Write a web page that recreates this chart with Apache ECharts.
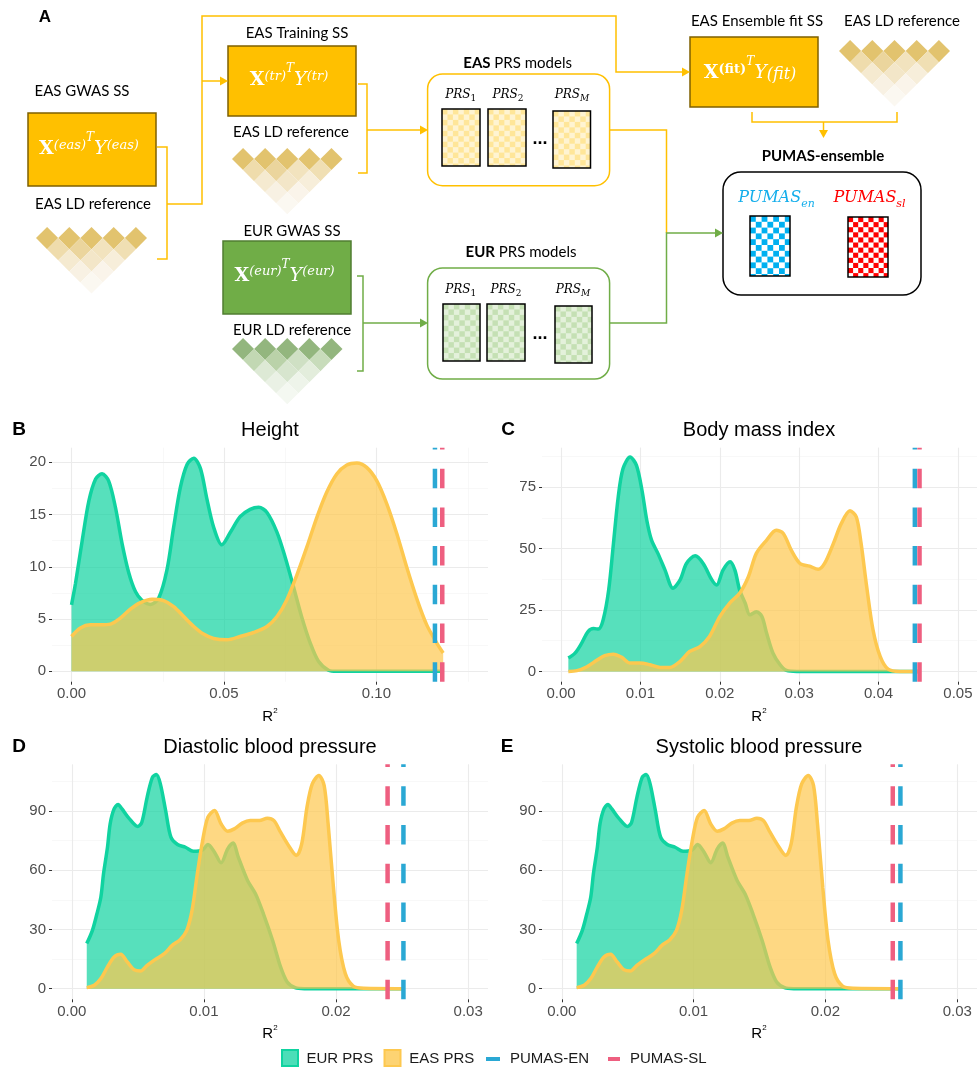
<!DOCTYPE html>
<html>
<head>
<meta charset="utf-8">
<script src="https://cdn.jsdelivr.net/npm/echarts@6/dist/echarts.min.js"></script>
<style>
html,body{margin:0;padding:0;background:#fff;}
#chart{width:977px;height:1067px;}
</style>
</head>
<body>
<div id="chart"></div>
<script>
// ---------- density estimates of R^2 (x = R^2, y = density) ----------
const heightEUR = [[0,6.35],[0.0013,8.4],[0.0035,12.5],[0.0057,16.3],[0.0079,18.4],[0.0100,18.9],[0.0122,18.2],[0.0144,15.7],[0.0166,12.2],[0.0188,9.4],[0.0210,7.6],[0.0231,6.8],[0.0259,6.4],[0.0286,7.0],[0.0313,9.7],[0.0335,13.8],[0.0357,17.6],[0.0379,19.8],[0.0401,20.4],[0.0423,19.4],[0.0444,16.5],[0.0466,13.8],[0.0493,12.1],[0.0521,13.3],[0.0553,14.8],[0.0586,15.5],[0.0614,15.7],[0.0641,15.2],[0.0674,13.3],[0.0701,10.9],[0.0728,8.1],[0.0755,5.2],[0.0783,2.7],[0.0810,0.95],[0.0843,0.1],[0.0870,0],[0.1219,0]];
const heightEAS = [[0,3.33],[0.0029,4.13],[0.0062,4.44],[0.0095,4.44],[0.0128,4.51],[0.0160,5.08],[0.0193,5.94],[0.0226,6.57],[0.0264,6.89],[0.0302,6.76],[0.0335,6.19],[0.0368,5.24],[0.0401,4.29],[0.0433,3.56],[0.0466,3.14],[0.0510,3.02],[0.0553,3.33],[0.0597,3.71],[0.0641,4.29],[0.0674,5.24],[0.0706,6.83],[0.0739,9.21],[0.0772,11.9],[0.0805,14.76],[0.0837,17.14],[0.0870,18.89],[0.0903,19.75],[0.0936,19.94],[0.0968,19.52],[0.1001,18.25],[0.1034,16.03],[0.1067,13.17],[0.1099,10.0],[0.1132,6.98],[0.1165,4.44],[0.1198,2.7],[0.1219,1.75]];
const heightPumasEN = 0.1192;
const heightPumasSL = 0.1216;

const bmiEUR = [[0.00092,5.4],[0.00176,7.4],[0.0026,11.5],[0.0034,16.2],[0.0041,17.4],[0.0047,17.2],[0.0053,20.9],[0.0060,33.1],[0.0066,52.0],[0.0072,70.9],[0.0078,82.4],[0.0087,87.2],[0.0095,83.8],[0.0102,73.6],[0.0108,61.5],[0.0114,53.4],[0.0122,48.0],[0.0131,41.2],[0.0141,33.8],[0.0150,37.2],[0.0158,43.9],[0.0169,47.0],[0.0179,43.9],[0.0190,37.2],[0.0196,35.1],[0.0204,41.2],[0.0213,44.6],[0.0219,41.2],[0.0225,33.1],[0.0232,27.7],[0.0238,23.0],[0.0246,24.3],[0.0253,22.3],[0.0259,15.5],[0.0267,7.4],[0.0276,2.7],[0.0284,0.4],[0.0297,0],[0.0450,0]];
const bmiEAS = [[0.00092,0],[0.0020,0.3],[0.0032,1.8],[0.0045,4.5],[0.0055,6.4],[0.0066,7.0],[0.0076,5.8],[0.0087,3.4],[0.0099,3.4],[0.0112,2.7],[0.0125,1.6],[0.0137,1.6],[0.0150,4.1],[0.0162,8.1],[0.0175,10.1],[0.0187,14.2],[0.0200,22.3],[0.0213,28.0],[0.0225,31.8],[0.0236,38.5],[0.0246,48.0],[0.0259,53.4],[0.0271,57.4],[0.0280,56.1],[0.0290,49.3],[0.0301,43.9],[0.0313,42.8],[0.0324,41.5],[0.0332,43.9],[0.0343,52.0],[0.0353,60.1],[0.0364,65.3],[0.0372,62.8],[0.0378,52.0],[0.0385,34.5],[0.0393,16.9],[0.0402,6.1],[0.0412,0.9],[0.0427,0],[0.0450,0]];
const bmiPumasEN = 0.04457;
const bmiPumasSL = 0.04516;

const dbpEUR = [[0.00113,22.8],[0.00156,29.5],[0.0019,37.9],[0.0022,46.4],[0.0024,58.2],[0.0027,71.6],[0.0029,83.4],[0.0032,91.0],[0.0035,93.2],[0.0038,91.0],[0.0043,86.5],[0.0050,82.1],[0.0053,84.3],[0.0057,96.9],[0.0061,107.0],[0.0064,108.4],[0.0067,103.7],[0.0071,90.2],[0.0075,76.7],[0.0080,73.0],[0.0086,71.6],[0.0092,69.6],[0.0099,70.3],[0.0103,73.0],[0.0108,69.1],[0.0113,63.7],[0.0118,70.8],[0.0122,73.7],[0.0126,66.6],[0.0133,54.8],[0.0139,48.0],[0.0145,37.9],[0.0152,24.4],[0.0158,11.0],[0.0163,3.4],[0.0169,0.5],[0.0176,0],[0.0251,0]];
const dbpEAS = [[0.00113,0.5],[0.0017,1.7],[0.0022,5.1],[0.0027,11.0],[0.0032,16.0],[0.0037,17.4],[0.0042,13.5],[0.0047,9.6],[0.0052,8.9],[0.0057,11.8],[0.0063,14.7],[0.0070,17.7],[0.0076,21.9],[0.0082,24.8],[0.0087,29.5],[0.0091,39.6],[0.0095,58.2],[0.0099,75.0],[0.0103,86.8],[0.0108,90.2],[0.0113,83.4],[0.0118,79.7],[0.0123,80.9],[0.0129,83.8],[0.0135,85.1],[0.0142,85.1],[0.0148,86.3],[0.0153,85.1],[0.0158,79.2],[0.0164,72.5],[0.0170,67.4],[0.0174,73.3],[0.0178,91.9],[0.0182,103.7],[0.0187,107.9],[0.0191,102.8],[0.0194,83.4],[0.0198,51.4],[0.0202,24.4],[0.0207,7.6],[0.0213,1.3],[0.0221,0.2],[0.0251,0]];
const dbpPumasEN = 0.0251;
const dbpPumasSL = 0.0239;

const sbpEUR = [[0.00113,22.8],[0.00156,29.5],[0.0019,37.9],[0.0022,46.4],[0.0024,58.2],[0.0027,71.6],[0.0029,83.4],[0.0032,91.0],[0.0035,93.2],[0.0038,91.0],[0.0043,86.5],[0.0050,82.1],[0.0053,84.3],[0.0057,96.9],[0.0061,107.0],[0.0064,108.4],[0.0067,103.7],[0.0071,90.2],[0.0075,76.7],[0.0080,73.0],[0.0086,71.6],[0.0092,69.6],[0.0099,70.3],[0.0103,73.0],[0.0108,69.1],[0.0113,63.7],[0.0118,70.8],[0.0122,73.7],[0.0126,66.6],[0.0133,54.8],[0.0139,48.0],[0.0145,37.9],[0.0152,24.4],[0.0158,11.0],[0.0163,3.4],[0.0169,0.5],[0.0176,0],[0.02567,0]];
const sbpEAS = [[0.00113,0.5],[0.0017,1.7],[0.0022,5.1],[0.0027,11.0],[0.0032,16.0],[0.0037,17.4],[0.0042,13.5],[0.0047,9.6],[0.0052,8.9],[0.0057,11.8],[0.0063,14.7],[0.0070,17.7],[0.0076,21.9],[0.0082,24.8],[0.0087,29.5],[0.0091,39.6],[0.0095,58.2],[0.0099,75.0],[0.0103,86.8],[0.0108,90.2],[0.0113,83.4],[0.0118,79.7],[0.0123,80.9],[0.0129,83.8],[0.0135,85.1],[0.0142,85.1],[0.0148,86.3],[0.0153,85.1],[0.0158,79.2],[0.0164,72.5],[0.0170,67.4],[0.0174,73.3],[0.0178,91.9],[0.0182,103.7],[0.0187,107.9],[0.0191,102.8],[0.0194,83.4],[0.0198,51.4],[0.0202,24.4],[0.0207,7.6],[0.0213,1.3],[0.0221,0.2],[0.02567,0]];
const sbpPumasEN = 0.02569;
const sbpPumasSL = 0.02511;

// ---------- axis ticks ----------
const heightXTicks = [0, 0.05, 0.10];
const heightXMinor = [0.025, 0.075, 0.125];
const heightYTicks = [0, 5, 10, 15, 20];
const heightYMinor = [2.5, 7.5, 12.5, 17.5];
const bmiXTicks = [0, 0.01, 0.02, 0.03, 0.04, 0.05];
const bmiXMinor = [0.005, 0.015, 0.025, 0.035, 0.045];
const bmiYTicks = [0, 25, 50, 75];
const bmiYMinor = [12.5, 37.5, 62.5, 87.5];
const bpXTicks = [0, 0.01, 0.02, 0.03];
const bpXMinor = [0.005, 0.015, 0.025];
const bpYTicks = [0, 30, 60, 90];
const bpYMinor = [15, 45, 75, 105];

const panelTitles = ['Height', 'Body mass index', 'Diastolic blood pressure', 'Systolic blood pressure'];
const panelLetters = ['B', 'C', 'D', 'E'];
const legendLabels = ['EUR PRS', 'EAS PRS', 'PUMAS-EN', 'PUMAS-SL'];

// ---------- colours ----------
const greenLine = '#10D3A0';
const yellowLine = '#FDC84F';
const blueLine = '#2AA8D4';
const pinkLine = '#EE5F80';
const SANS = 'Liberation Sans, Arial, sans-serif';

// ---------- panel layout ----------
const panels = [
  { left: 52,  top: 447.7, width: 436, height: 234, xMin: -0.0064, xMax: 0.1366, yMin: -1.0, yMax: 21.4,
    xT: heightXTicks, xM: heightXMinor, yT: heightYTicks, yM: heightYMinor,
    eur: heightEUR, eas: heightEAS, en: heightPumasEN, sl: heightPumasSL },
  { left: 542, top: 447.7, width: 435, height: 234, xMin: -0.0024, xMax: 0.0524, yMin: -4.2, yMax: 91,
    xT: bmiXTicks, xM: bmiXMinor, yT: bmiYTicks, yM: bmiYMinor,
    eur: bmiEUR, eas: bmiEAS, en: bmiPumasEN, sl: bmiPumasSL },
  { left: 52,  top: 764.3, width: 436, height: 235, xMin: -0.0015, xMax: 0.0315, yMin: -5.4, yMax: 113.6,
    xT: bpXTicks, xM: bpXMinor, yT: bpYTicks, yM: bpYMinor,
    eur: dbpEUR, eas: dbpEAS, en: dbpPumasEN, sl: dbpPumasSL },
  { left: 542, top: 764.3, width: 435, height: 235, xMin: -0.0015, xMax: 0.0315, yMin: -5.4, yMax: 113.6,
    xT: bpXTicks, xM: bpXMinor, yT: bpYTicks, yM: bpYMinor,
    eur: sbpEUR, eas: sbpEAS, en: sbpPumasEN, sl: sbpPumasSL }
];

const majorGrid = { color: '#EBEBEB', width: 1.1, type: 'solid' };
const minorGrid = { color: '#F4F4F4', width: 0.6, type: 'solid' };

const grids = [], xAxes = [], yAxes = [], series = [];
panels.forEach((p, i) => {
  grids.push({ left: p.left, top: p.top, width: p.width, height: p.height });
  xAxes.push({
    gridIndex: i, type: 'value', min: p.xMin, max: p.xMax,
    axisLine: { show: false, onZero: false },
    axisTick: { show: true, customValues: p.xT, length: 3, lineStyle: { color: '#333', width: 1 } },
    axisLabel: { customValues: p.xT, formatter: v => v.toFixed(2), color: '#4D4D4D', fontSize: 15, fontFamily: SANS, margin: 5 },
    splitLine: { show: false }
  });
  yAxes.push({
    gridIndex: i, type: 'value', min: p.yMin, max: p.yMax,
    axisLine: { show: false, onZero: false },
    axisTick: { show: true, customValues: p.yT, length: 3, lineStyle: { color: '#333', width: 1 } },
    axisLabel: { customValues: p.yT, formatter: v => String(v), color: '#4D4D4D', fontSize: 15, fontFamily: SANS, margin: 6 },
    splitLine: { show: false }
  });
  // panel grid lines (major and minor) drawn beneath the densities
  const gl = [];
  p.xM.forEach(v => gl.push({ xAxis: v, lineStyle: minorGrid }));
  p.yM.forEach(v => gl.push({ yAxis: v, lineStyle: minorGrid }));
  p.xT.forEach(v => gl.push({ xAxis: v, lineStyle: majorGrid }));
  p.yT.forEach(v => gl.push({ yAxis: v, lineStyle: majorGrid }));
  series.push({
    type: 'line', xAxisIndex: i, yAxisIndex: i, data: [], silent: true, z: 0,
    markLine: { silent: true, z: 0, symbol: ['none', 'none'], label: { show: false }, animation: false, data: gl }
  });
  // EUR density first, EAS density stacked above it (area and outline)
  series.push({
    type: 'line', name: legendLabels[0], xAxisIndex: i, yAxisIndex: i, data: p.eur, smooth: 0.3,
    showSymbol: false, silent: true, z: 2,
    lineStyle: { color: greenLine, width: 3.5 },
    areaStyle: { color: greenLine, opacity: 0.7 }
  });
  series.push({
    type: 'line', name: legendLabels[1], xAxisIndex: i, yAxisIndex: i, data: p.eas, smooth: 0.3,
    showSymbol: false, silent: true, z: 3,
    lineStyle: { color: yellowLine, width: 3.5 },
    areaStyle: { color: yellowLine, opacity: 0.7 }
  });
  series.push({
    type: 'line', name: legendLabels[2], xAxisIndex: i, yAxisIndex: i, showSymbol: false, silent: true, z: 4,
    data: [[p.en, p.yMin], [p.en, p.yMax]],
    lineStyle: { color: blueLine, width: 4.5, type: [19.5, 19.2], cap: 'butt' }
  });
  series.push({
    type: 'line', name: legendLabels[3], xAxisIndex: i, yAxisIndex: i, showSymbol: false, silent: true, z: 4,
    data: [[p.sl, p.yMin], [p.sl, p.yMax]],
    lineStyle: { color: pinkLine, width: 4.5, type: [19.5, 19.2], cap: 'butt' }
  });
});

// ---------- text decorations for the density panels ----------
const gfx = [];
function txt(x, y, text, o) {
  gfx.push({ type: 'text', x: x, y: y, z: 50,
    style: Object.assign({ text: text, align: 'center', verticalAlign: 'middle', fill: '#000', fontFamily: SANS, fontSize: 15 }, o || {}) });
}
const titlePos = [[270, 430], [759, 430], [270, 747], [759, 747]];
const letterPos = [[19, 430], [508, 430], [19, 747], [507, 747]];
const r2Pos = [[270, 716], [759, 716], [270, 1033], [759, 1033]];
panels.forEach((p, i) => {
  txt(titlePos[i][0], titlePos[i][1], panelTitles[i], { fontSize: 20 });
  txt(letterPos[i][0], letterPos[i][1], panelLetters[i], { fontSize: 19, fontWeight: 'bold' });
  txt(r2Pos[i][0], r2Pos[i][1], '{r|R}{s|2}', {
    rich: {
      r: { fontFamily: SANS, fontSize: 15, fill: '#000', lineHeight: 16, verticalAlign: 'bottom' },
      s: { fontFamily: SANS, fontSize: 8, fill: '#000', lineHeight: 9, verticalAlign: 'bottom', padding: [0, 0, 9, 0] }
    }
  });
});

// legend keys
gfx.push({ type: 'rect', z: 50, shape: { x: 282, y: 1050, width: 16, height: 16 }, style: { fill: 'rgba(16,211,160,0.75)', stroke: greenLine, lineWidth: 2 } });
txt(306.5, 1058.5, legendLabels[0], { align: 'left', fill: '#1A1A1A' });
gfx.push({ type: 'rect', z: 50, shape: { x: 384.5, y: 1050, width: 16, height: 16 }, style: { fill: 'rgba(253,200,79,0.8)', stroke: yellowLine, lineWidth: 2 } });
txt(409.3, 1058.5, legendLabels[1], { align: 'left', fill: '#1A1A1A' });
gfx.push({ type: 'line', z: 50, shape: { x1: 486, y1: 1059, x2: 500, y2: 1059 }, style: { stroke: blueLine, lineWidth: 4 } });
txt(510, 1058.5, legendLabels[2], { align: 'left', fill: '#1A1A1A' });
gfx.push({ type: 'line', z: 50, shape: { x1: 608, y1: 1059, x2: 620, y2: 1059 }, style: { stroke: pinkLine, lineWidth: 4 } });
txt(630, 1058.5, legendLabels[3], { align: 'left', fill: '#1A1A1A' });

// ---------- workflow diagram (panel A) ----------
const YEL = '#FFC000', GRN = '#70AD47';
const LATO = 'Lato, "Open Sans", sans-serif';
const SERIF = '"DejaVu Serif", serif';

function label(x, y, text, o) {
  gfx.push({ type: 'text', x: x, y: y, z: 60,
    style: Object.assign({ text: text, align: 'center', verticalAlign: 'middle', fill: '#000', fontFamily: LATO, fontSize: 15 }, o || {}) });
}
function box(x, y, w, h, fill, stroke, r) {
  gfx.push({ type: 'rect', z: 55, shape: { x: x, y: y, width: w, height: h, r: r || 0 },
    style: { fill: fill, stroke: stroke, lineWidth: 1.5 } });
}
function poly(points, color) {
  gfx.push({ type: 'polyline', z: 56, shape: { points: points }, style: { stroke: color, lineWidth: 1.5, fill: 'none' } });
}
function arrowR(xTip, y, color) {
  gfx.push({ type: 'polygon', z: 57, shape: { points: [[xTip, y], [xTip - 8, y - 4.5], [xTip - 8, y + 4.5]] }, style: { fill: color } });
}
function arrowD(x, yTip, color) {
  gfx.push({ type: 'polygon', z: 57, shape: { points: [[x, yTip], [x - 4.5, yTip - 8], [x + 4.5, yTip - 8]] }, style: { fill: color } });
}
function ldTriangle(x0, y0, w, rows) {
  rows.forEach((row, r) => {
    row.forEach((c, k) => {
      const cx = x0 + w / 2 + k * w + r * w / 2;
      const cy = y0 + w / 2 + r * w / 2;
      gfx.push({ type: 'polygon', z: 55, shape: { points: [[cx, cy - w / 2], [cx + w / 2, cy], [cx, cy + w / 2], [cx - w / 2, cy]] },
        style: { fill: c } });
    });
  });
}
function checker(x, y, w, h, cell, c1, c2) {
  gfx.push({ type: 'rect', z: 56, shape: { x: x, y: y, width: w, height: h }, style: { fill: c2 } });
  const nx = Math.ceil(w / cell), ny = Math.ceil(h / cell);
  for (let i = 0; i < nx; i++) {
    for (let j = 0; j < ny; j++) {
      if ((i + j) % 2 === 0) {
        const cw = Math.min(cell, w - i * cell), ch = Math.min(cell, h - j * cell);
        gfx.push({ type: 'rect', z: 56, shape: { x: x + i * cell, y: y + j * cell, width: cw, height: ch }, style: { fill: c1 } });
      }
    }
  }
  gfx.push({ type: 'rect', z: 57, shape: { x: x, y: y, width: w, height: h }, style: { fill: 'none', stroke: '#000', lineWidth: 1.5 } });
}
function formula(cx, cy, text) {
  const base = { fill: '#fff', fontFamily: SERIF, verticalAlign: 'bottom' };
  gfx.push({ type: 'text', x: cx, y: cy, z: 60, style: {
    text: text, align: 'center', verticalAlign: 'middle',
    rich: {
      X: Object.assign({ fontSize: 19, fontWeight: 'bold', lineHeight: 20 }, base),
      s: Object.assign({ fontSize: 13, fontStyle: 'italic', lineHeight: 14, padding: [0, 0, 7, 0] }, base),
      u: Object.assign({ fontSize: 13, fontWeight: 'bold', lineHeight: 14, padding: [0, 0, 7, 0] }, base),
      T: Object.assign({ fontSize: 12, fontStyle: 'italic', lineHeight: 12, padding: [0, 0, 15, 0] }, base),
      Y: Object.assign({ fontSize: 19, fontStyle: 'italic', lineHeight: 20 }, base),
      i: Object.assign({ fontSize: 16, fontStyle: 'italic', lineHeight: 20 }, base)
    }
  } });
}
function prsLabel(cx, cy, sub) {
  gfx.push({ type: 'text', x: cx, y: cy, z: 60, style: {
    text: '{p|PRS}{' + (sub === 'M' ? 'm' : 'n') + '|' + sub + '}', align: 'center', verticalAlign: 'middle',
    rich: {
      p: { fontFamily: SERIF, fontStyle: 'italic', fontSize: 12, lineHeight: 14, padding: [0, 0, 2, 0], verticalAlign: 'bottom', fill: '#000' },
      n: { fontFamily: SERIF, fontSize: 9, lineHeight: 9, verticalAlign: 'bottom', fill: '#000' },
      m: { fontFamily: SERIF, fontStyle: 'italic', fontSize: 9, lineHeight: 9, verticalAlign: 'bottom', fill: '#000' }
    }
  } });
}
function pumasLabel(cx, cy, sub, color) {
  gfx.push({ type: 'text', x: cx, y: cy, z: 60, style: {
    text: '{p|PUMAS}{s|' + sub + '}', align: 'center', verticalAlign: 'middle',
    rich: {
      p: { fontFamily: SERIF, fontStyle: 'italic', fontSize: 16, lineHeight: 18, padding: [0, 0, 4, 0], verticalAlign: 'bottom', fill: color },
      s: { fontFamily: SERIF, fontStyle: 'italic', fontSize: 11, lineHeight: 11, verticalAlign: 'bottom', fill: color }
    }
  } });
}

const goldRows = [
  ['#E2C36E', '#E2C36E', '#E2C36E', '#E2C36E', '#E2C36E'],
  ['#EFDCAC', '#EBD59D', '#F2E3BE', '#F0DFB3'],
  ['#F5EAD0', '#F3E6C8', '#F7EEDA'],
  ['#F8F1E3', '#FAF4EA'],
  ['#FBF8F1']
];
const greenRows = [
  ['#93B67E', '#93B67E', '#93B67E', '#93B67E', '#93B67E'],
  ['#C2D8B3', '#BAD2A9', '#CFE0C4', '#C8DCBB'],
  ['#DDE9D5', '#D7E5CE', '#E3EDDC'],
  ['#EAF1E5', '#EEF4EA'],
  ['#F4F8F1']
];

label(45, 17, 'A', { fontFamily: SANS, fontWeight: 'bold', fontSize: 17 });

// EAS GWAS summary statistics
label(82, 91, 'EAS GWAS SS');
box(28, 113, 128, 73, YEL, '#7F6000');
formula(89, 148.7, '{X|X}{s|(eas)}{T|T}{Y|Y}{s|(eas)}');
label(93, 204, 'EAS LD reference');
ldTriangle(36, 227, 22.2, goldRows);
poly([[157, 147], [167, 147], [167, 259], [157, 259]], YEL);
poly([[167, 204], [202, 204], [202, 16], [616, 16], [616, 72], [682, 72]], YEL);
arrowR(690, 72, YEL);
poly([[202, 81], [220, 81]], YEL);
arrowR(228, 81, YEL);

// EAS training split
label(297, 33, 'EAS Training SS');
box(228, 46, 128, 70, YEL, '#7F6000');
formula(289, 80, '{X|X}{s|(tr)}{T|T}{Y|Y}{s|(tr)}');
label(291, 132, 'EAS LD reference');
ldTriangle(232, 148, 22.1, goldRows);
poly([[358, 84], [367, 84], [367, 173], [358, 173]], YEL);
poly([[367, 130], [420, 130]], YEL);
arrowR(428, 130, YEL);

// EUR GWAS summary statistics
label(292, 231, 'EUR GWAS SS');
box(223, 241, 128, 73, GRN, '#507E32');
formula(284.5, 275.5, '{X|X}{s|(eur)}{T|T}{Y|Y}{s|(eur)}');
label(292, 330, 'EUR LD reference');
ldTriangle(232, 338, 22.1, greenRows);
poly([[357, 276], [363, 276], [363, 371], [357, 371]], GRN);
poly([[363, 323], [420, 323]], GRN);
arrowR(428, 323, GRN);

// PRS model sets
label(517.6, 63, '{b|EAS} PRS models', { rich: { b: { fontFamily: LATO, fontWeight: 'bold', fontSize: 15, fill: '#000' } } });
box(427.6, 74, 182, 111.7, '#fff', YEL, 15);
prsLabel(460.7, 96, '1'); prsLabel(508, 96, '2'); prsLabel(572, 96, 'M');
checker(442, 109, 38, 57, 5.45, '#FFE699', '#FFF4D2');
checker(488, 109, 38, 57, 5.45, '#FFE699', '#FFF4D2');
checker(553, 111, 37.5, 57, 5.45, '#FFE699', '#FFF4D2');
label(540, 139, '...', { fontWeight: 'bold', fontSize: 18, fontFamily: SANS });

label(521, 252, '{b|EUR} PRS models', { rich: { b: { fontFamily: LATO, fontWeight: 'bold', fontSize: 15, fill: '#000' } } });
box(427.6, 268, 182, 111, '#fff', GRN, 15);
prsLabel(460.7, 291, '1'); prsLabel(506, 291, '2'); prsLabel(573, 291, 'M');
checker(443, 304, 37, 57, 5.45, '#C5E0B4', '#E4F1DB');
checker(487, 304, 38, 57, 5.45, '#C5E0B4', '#E4F1DB');
checker(555, 306, 37, 57, 5.45, '#C5E0B4', '#E4F1DB');
label(540, 334, '...', { fontWeight: 'bold', fontSize: 18, fontFamily: SANS });

// connectors into the ensemble
poly([[609.6, 130], [666.5, 130], [666.5, 233]], YEL);
poly([[609.6, 323], [666.5, 323], [666.5, 233], [715, 233]], GRN);
arrowR(723, 233, GRN);

// ensemble fit data
label(757, 21, 'EAS Ensemble fit SS');
box(690, 37, 128, 70, YEL, '#7F6000');
formula(750, 73, '{X|X}{u|(fit)}{T|T}{Y|Y}{i|(fit)}');
label(902, 21, 'EAS LD reference');
ldTriangle(839, 40, 22.2, goldRows);
poly([[752, 112], [752, 122], [897, 122], [897, 112]], YEL);
poly([[823.5, 122], [823.5, 130]], YEL);
arrowD(823.5, 138, YEL);

// PUMAS-ensemble
label(823, 156, 'PUMAS-ensemble', { fontWeight: 'bold' });
box(723, 172, 198, 123, '#fff', '#000', 18);
pumasLabel(776.5, 201, 'en', '#14AEEB');
pumasLabel(869.5, 201, 'sl', '#FF0000');
checker(750, 216, 40, 60, 5.8, '#00B0F0', '#FFFFFF');
checker(848, 217, 40, 60, 5.1, '#FF0000', '#FFFFFF');

const option = {
  animation: false,
  backgroundColor: '#fff',
  grid: grids,
  xAxis: xAxes,
  yAxis: yAxes,
  series: series,
  graphic: gfx
};

const chart = echarts.init(document.getElementById('chart'), null, { renderer: 'canvas' });
chart.setOption(option);
</script>
</body>
</html>
